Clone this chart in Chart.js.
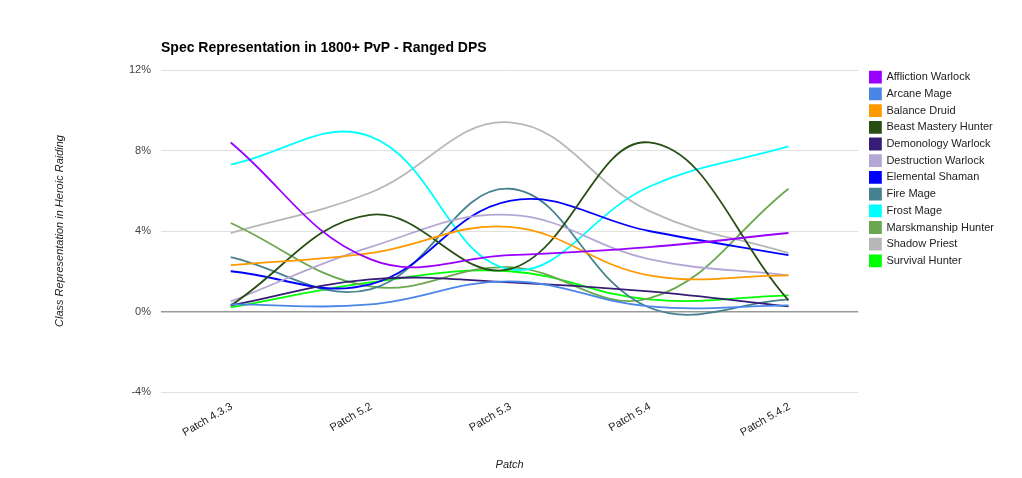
<!DOCTYPE html>
<html>
<head>
<meta charset="utf-8">
<script src="https://cdn.jsdelivr.net/npm/chart.js@4.4.1/dist/chart.umd.min.js"></script>
<style>
    html, body { margin: 0; padding: 0; background: #ffffff; }
    #wrap { width: 1022px; height: 478px; }
</style>
</head>
<body>
<div id="wrap"><canvas id="specChart"></canvas></div>
<script>
const patches = ['Patch 4.3.3', 'Patch 5.2', 'Patch 5.3', 'Patch 5.4', 'Patch 5.4.2'];

const afflictionWarlock = [8.4, 2.6, 2.8, 3.2, 3.9];
const arcaneMage = [0.35, 0.35, 1.5, 0.25, 0.3];
const balanceDruid = [2.3, 2.9, 4.2, 1.8, 1.8];
const beastMasteryHunter = [0.3, 4.8, 2.1, 8.4, 0.55];
const demonologyWarlock = [0.3, 1.6, 1.45, 1.0, 0.25];
const destructionWarlock = [0.5, 3.2, 4.8, 2.6, 1.8];
const elementalShaman = [2.0, 1.35, 5.5, 4.0, 2.8];
const fireMage = [2.7, 1.1, 6.1, 0.2, 0.6];
const frostMage = [7.3, 8.7, 2.1, 6.2, 8.2];
const marksmanshipHunter = [4.4, 1.25, 2.2, 0.65, 6.1];
const shadowPriest = [3.9, 5.9, 9.4, 5.0, 2.9];
const survivalHunter = [0.2, 1.45, 2.0, 0.6, 0.8];

const specNames = ['Affliction Warlock', 'Arcane Mage', 'Balance Druid', 'Beast Mastery Hunter',
    'Demonology Warlock', 'Destruction Warlock', 'Elemental Shaman', 'Fire Mage', 'Frost Mage',
    'Marskmanship Hunter', 'Shadow Priest', 'Survival Hunter'];
const specValues = [afflictionWarlock, arcaneMage, balanceDruid, beastMasteryHunter,
    demonologyWarlock, destructionWarlock, elementalShaman, fireMage, frostMage,
    marksmanshipHunter, shadowPriest, survivalHunter];
const specColors = ['#9900ff', '#4a86e8', '#ff9900', '#274e13', '#351c75', '#b4a7d6',
    '#0000ff', '#45818e', '#00ffff', '#6aa84f', '#b7b7b7', '#00ff00'];

const yTicks = [-4, 0, 4, 8, 12];

// title drawn at the left edge of the plot, like the original
const plotTitle = {
    id: 'plotTitle',
    afterLayout(chart) {
        // legend sits a bit higher and further right than chart.js puts it
        const legend = chart.legend;
        legend.top -= 4;
        legend.bottom -= 4;
        legend.left += 6;
        legend.right += 6;
    },
    afterDraw(chart) {
        const ctx = chart.ctx;
        ctx.save();
        ctx.font = 'bold 14px Arial, "Liberation Sans", sans-serif';
        ctx.fillStyle = '#000000';
        ctx.textBaseline = 'alphabetic';
        ctx.fillText('Spec Representation in 1800+ PvP - Ranged DPS', chart.chartArea.left, 52);
        ctx.restore();
    }
};

function buildDatasets() {
    return specNames.map((name, i) => ({
        label: name,
        data: specValues[i],
        borderColor: specColors[i],
        backgroundColor: specColors[i],
        borderWidth: 1.8,
        pointRadius: 0,
        pointHoverRadius: 3,
        tension: 0.4,
        fill: false
    }));
}

new Chart(document.getElementById('specChart'), {
    type: 'line',
    data: {
        labels: patches,
        datasets: buildDatasets()
    },
    plugins: [plotTitle],
    options: {
        responsive: true,
        maintainAspectRatio: false,
        animation: false,
        layout: {
            padding: { top: 70, right: 24, bottom: 0, left: 0 }
        },
        scales: {
            x: {
                offset: true,
                grid: { display: false, drawTicks: false },
                border: { display: false },
                ticks: {
                    color: '#222222',
                    font: { family: 'Arial, "Liberation Sans", sans-serif', size: 11 },
                    minRotation: 30,
                    maxRotation: 30,
                    padding: 8,
                    labelOffset: 1
                },
                title: {
                    display: true,
                    text: 'Patch',
                    color: '#222222',
                    font: { family: 'Arial, "Liberation Sans", sans-serif', size: 11, style: 'italic' },
                    padding: { top: 0, bottom: 6 }
                },
                afterFit(scale) {
                    scale.height = 86;
                }
            },
            y: {
                min: -4,
                max: 12,
                afterBuildTicks(scale) {
                    scale.ticks = yTicks.map(v => ({ value: v }));
                },
                grid: {
                    drawTicks: false,
                    color: ctx => ctx.tick && ctx.tick.value === 0 ? '#999999' : '#e0e0e0',
                    lineWidth: ctx => ctx.tick && ctx.tick.value === 0 ? 1.5 : 1
                },
                border: { display: false },
                ticks: {
                    color: '#444444',
                    font: { family: 'Arial, "Liberation Sans", sans-serif', size: 11 },
                    padding: 10,
                    callback: v => v + '%'
                },
                title: {
                    display: true,
                    text: 'Class Representation in Heroic Raiding',
                    color: '#222222',
                    font: { family: 'Arial, "Liberation Sans", sans-serif', size: 11, style: 'italic' },
                    padding: { top: 53, bottom: 0 }
                },
                afterFit(scale) {
                    scale.width = 161;
                }
            }
        },
        plugins: {
            legend: {
                position: 'right',
                align: 'start',
                labels: {
                    color: '#222222',
                    font: { family: 'Arial, "Liberation Sans", sans-serif', size: 11 },
                    boxWidth: 11,
                    boxHeight: 11,
                    padding: 5.7
                }
            },
            tooltip: {
                bodyFont: { size: 12 },
                titleFont: { size: 12 }
            }
        }
    }
});
</script>
</body>
</html>
